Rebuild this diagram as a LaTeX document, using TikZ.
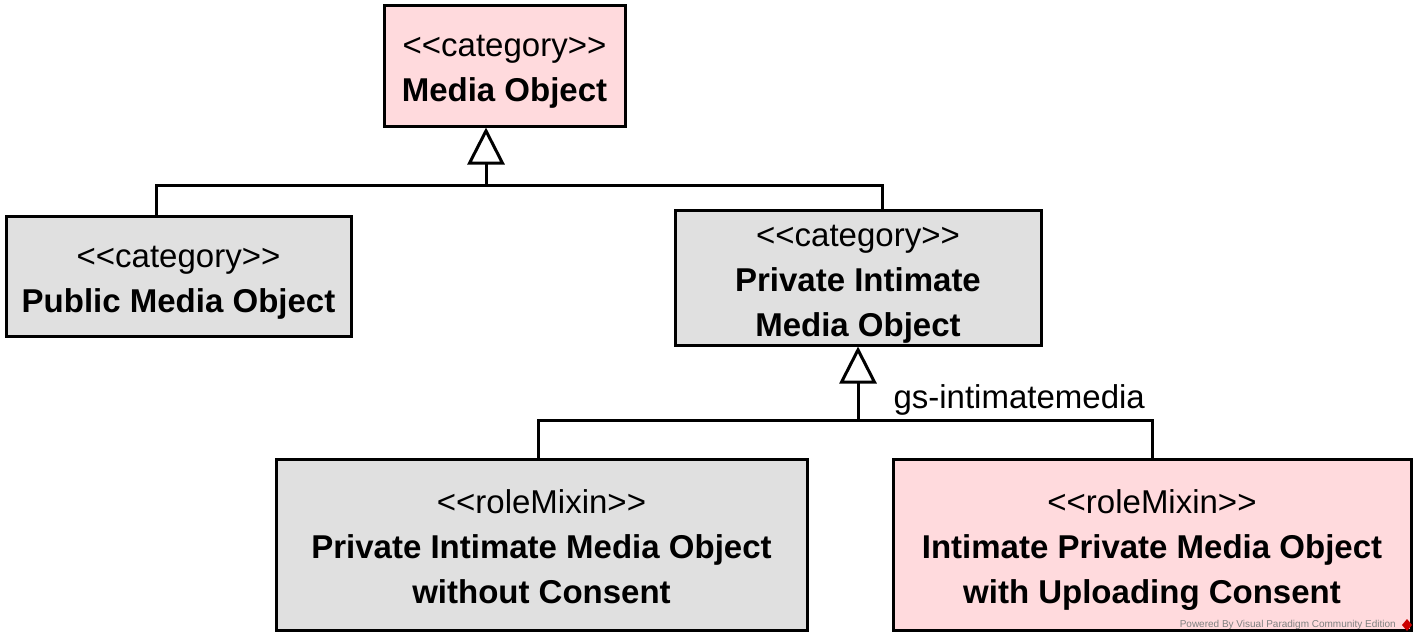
\documentclass[tikz,border=0pt]{standalone}
\usepackage{fontspec}
\setmainfont{Liberation Sans}
\usetikzlibrary{arrows.meta}
\definecolor{catpink}{RGB}{255,218,221}
\definecolor{catgray}{RGB}{224,224,224}
\tikzset{
  umlbox/.style={draw, line width=3pt, align=center, inner sep=0pt,
    font=\fontsize{33}{45}\selectfont, text height=72pt, text depth=0pt},
  threelines/.style={text height=117pt},
  gen/.style={line width=3pt, -{Triangle[open, length=37pt, width=37pt]}},
  tree/.style={line width=3pt},
}

\begin{document}
\begin{tikzpicture}[x=1pt, y=-1pt]
				\useasboundingbox (0,0) rectangle (1419,642);
				% categories
				\node[umlbox, fill=catpink, minimum width=241pt, minimum height=120pt] (media) at (504.5,66)
					{<{}<category>{}>\\\textbf{Media Object}};
				\node[umlbox, fill=catgray, minimum width=345pt, minimum height=120pt] (pub) at (178.5,276)
					{<{}<category>{}>\\\textbf{Public Media Object}};
				\node[umlbox, threelines, fill=catgray, minimum width=366pt, minimum height=135pt] (priv) at (858,277.5)
					{<{}<category>{}>\\\textbf{Private Intimate}\\\textbf{Media Object}};
				% role mixins
				\node[umlbox, threelines, fill=catgray, minimum width=531pt, minimum height=171pt] (nocons) at (541.5,544.5)
					{<{}<roleMixin>{}>\\\textbf{Private Intimate Media Object}\\\textbf{without Consent}};
				\node[umlbox, threelines, fill=catpink, minimum width=518pt, minimum height=171pt] (upcons) at (1152,544.5)
					{<{}<roleMixin>{}>\\\textbf{Intimate Private Media Object}\\\textbf{with Uploading Consent}};
				% generalizations
				\coordinate (top) at (486,185);
				\draw[gen] (top) -- (top |- media.south);
				\draw[tree] ([xshift=-22.5pt]pub.north) |- (top) -| ([xshift=24pt]priv.north);
				\coordinate (mid) at (858,420);
				\draw[gen] (mid) -- (priv.south);
				\draw[tree] ([xshift=-3.5pt]nocons.north) |- (mid) -| (upcons.north);
				\node[anchor=base west, font=\fontsize{33}{38}\selectfont] (gslabel) at (890,408) {gs-intimatemedia};
				% watermark
				\node[anchor=east, font=\fontsize{10}{11}\selectfont, text=gray, inner sep=0pt] (wm) at (1396,625)
					{Powered By Visual Paradigm Community Edition};
				\fill[red!80!black] (1407,619) -- (1412,625) -- (1407,631) -- (1402,625) -- cycle;
			\end{tikzpicture}
\end{document}
